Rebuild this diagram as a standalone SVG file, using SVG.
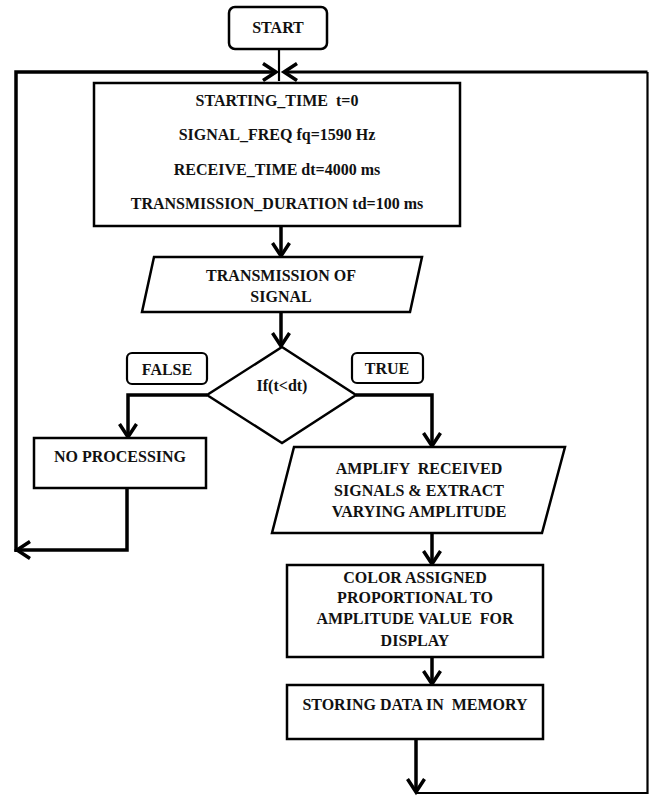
<svg xmlns="http://www.w3.org/2000/svg" width="649" height="797" viewBox="0 0 649 797">
<style>
  text { font-family: 'Liberation Serif', 'DejaVu Serif', serif; font-weight: bold; font-size: 16px; fill: #111; text-anchor: middle; white-space: pre; }
  .box { fill: #fff; stroke: #000; stroke-width: 2.5; }
  .lbl { fill: #fff; stroke: #000; stroke-width: 2.2; }
  .conn { fill: none; stroke: #000; stroke-width: 3.5; }
  .thin { fill: none; stroke: #000; stroke-width: 2.2; }
</style>
<defs>
  <marker id="arr" markerUnits="userSpaceOnUse" viewBox="-16 -12 20 24" markerWidth="20" markerHeight="24" refX="0" refY="0" orient="auto" overflow="visible">
    <path d="M -13 -8.5 L 0 0 L -13 8.5" fill="none" stroke="#000" stroke-width="3.5"/>
  </marker>
</defs>
<rect width="649" height="797" fill="#fff"/>

<g id="connectors">
  <line class="thin" x1="279" y1="49" x2="279" y2="81"/>
  <polyline class="conn" points="16,552 16,72 276,72" marker-end="url(#arr)"/>
  <polyline class="thin" points="416,793 647.5,793 647.5,72" />
  <polyline class="conn" points="647.5,72 284,72" marker-end="url(#arr)" style="stroke-width:3"/>
  <line class="conn" x1="281" y1="226" x2="281" y2="256" marker-end="url(#arr)"/>
  <line class="conn" x1="281" y1="312" x2="281" y2="346" marker-end="url(#arr)"/>
  <polyline class="conn" points="207,395 128,395 128,437" marker-end="url(#arr)"/>
  <polyline class="conn" points="356,395 432,395 432,446" marker-end="url(#arr)"/>
  <polyline class="conn" points="127,488 127,550 17,550" marker-end="url(#arr)"/>
  <line class="conn" x1="432" y1="533" x2="432" y2="564" marker-end="url(#arr)"/>
  <line class="conn" x1="432" y1="657" x2="432" y2="684" marker-end="url(#arr)"/>
  <line class="conn" x1="416" y1="739" x2="416" y2="792" marker-end="url(#arr)"/>
</g>

<g font-family="Liberation Serif, DejaVu Serif, serif">
<g id="start">
  <rect class="box" x="229" y="7" width="98" height="42" rx="6"/>
  <text x="278" y="33">START</text>
</g>

<g id="init">
  <rect class="box" x="94" y="83" width="366" height="143"/>
  <text x="277" y="106">STARTING_TIME  t=0</text>
  <text x="277" y="140">SIGNAL_FREQ fq=1590 Hz</text>
  <text x="277" y="175">RECEIVE_TIME dt=4000 ms</text>
  <text x="277" y="209">TRANSMISSION_DURATION td=100 ms</text>
</g>

<g id="transmission">
  <polygon class="box" points="154,257 422,257 410,312 142,312"/>
  <text x="281" y="281">TRANSMISSION OF</text>
  <text x="281" y="302">SIGNAL</text>
</g>

<g id="decision">
  <polygon class="box" points="282,347 356,395 282,443 207,395"/>
  <text x="282" y="391">If(t&lt;dt)</text>
</g>

<g id="false-label">
  <rect class="lbl" x="127" y="353" width="80" height="31" rx="5"/>
  <text x="167" y="375">FALSE</text>
</g>

<g id="true-label">
  <rect class="lbl" x="352" y="353" width="71" height="30" rx="5"/>
  <text x="387" y="374">TRUE</text>
</g>

<g id="no-processing">
  <rect class="box" x="34" y="438" width="172" height="50"/>
  <text x="120" y="462">NO PROCESSING</text>
</g>

<g id="amplify">
  <polygon class="box" points="294,447 565,447 542,533 272,533"/>
  <text x="419" y="474">AMPLIFY  RECEIVED</text>
  <text x="419" y="496">SIGNALS &amp; EXTRACT</text>
  <text x="419" y="517">VARYING AMPLITUDE</text>
</g>

<g id="color">
  <rect class="box" x="287" y="565" width="256" height="92"/>
  <text x="415" y="583">COLOR ASSIGNED</text>
  <text x="415" y="603">PROPORTIONAL TO</text>
  <text x="415" y="624">AMPLITUDE VALUE  FOR</text>
  <text x="415" y="646">DISPLAY</text>
</g>

<g id="storing">
  <rect class="box" x="287" y="685" width="256" height="54"/>
  <text x="415" y="710">STORING DATA IN  MEMORY</text>
</g>
</g>
</svg>
